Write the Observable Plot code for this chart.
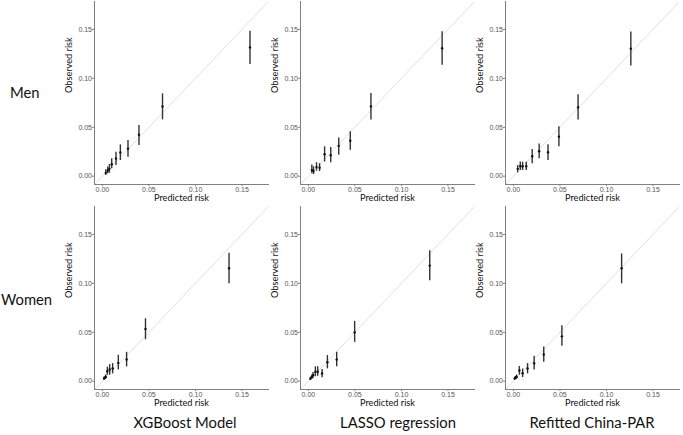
<!DOCTYPE html>
<html><head><meta charset="utf-8">
<script src="https://cdn.jsdelivr.net/npm/d3@7"></script>
<script src="https://cdn.jsdelivr.net/npm/@observablehq/plot@0.6"></script>
<style>
html,body{margin:0;padding:0;background:#fff;}
#wrap{position:relative;width:683px;height:435px;overflow:hidden;}
.panel{position:absolute;}
.lbl{position:absolute;font-family:Lato,sans-serif;font-size:14.8px;color:#111;white-space:nowrap;line-height:1;}
</style></head><body><div id="wrap"></div>
<script>
// ---- data ----
const rowLabels = ["Men", "Women"];
const modelTitles = ["XGBoost Model", "LASSO regression", "Refitted China-PAR"];
const axisTicks = [0, 0.05, 0.10, 0.15];
const axisDomain = [-0.0085, 0.1785];
const refLine = [-0.02, 0.2];

// Men, XGBoost
const menXgbPred = [0.0036, 0.0057, 0.0075, 0.0100, 0.0146, 0.0193, 0.0275, 0.0393, 0.0646, 0.1586];
const menXgbObs  = [0.0034, 0.0058, 0.0075, 0.0123, 0.0180, 0.0242, 0.0280, 0.0423, 0.0712, 0.1316];
const menXgbLo   = [0.0007, 0.0025, 0.0031, 0.0075, 0.0109, 0.0160, 0.0194, 0.0314, 0.0576, 0.1140];
const menXgbHi   = [0.0065, 0.0095, 0.0119, 0.0177, 0.0245, 0.0320, 0.0365, 0.0518, 0.0842, 0.1480];
// Men, LASSO
const menLassoPred = [0.0037, 0.0055, 0.0087, 0.0120, 0.0174, 0.0240, 0.0326, 0.0450, 0.0672, 0.1437];
const menLassoObs  = [0.0062, 0.0052, 0.0093, 0.0086, 0.0224, 0.0214, 0.0310, 0.0362, 0.0713, 0.1307];
const menLassoLo   = [0.0024, 0.0017, 0.0052, 0.0048, 0.0145, 0.0138, 0.0214, 0.0266, 0.0574, 0.1134];
const menLassoHi   = [0.0114, 0.0096, 0.0138, 0.0128, 0.0300, 0.0293, 0.0390, 0.0455, 0.0845, 0.1477];
// Men, Refitted China-PAR
const menParPred = [0.0046, 0.0074, 0.0099, 0.0138, 0.0202, 0.0277, 0.0372, 0.0489, 0.0695, 0.1262];
const menParObs  = [0.0075, 0.0102, 0.0102, 0.0102, 0.0204, 0.0255, 0.0244, 0.0404, 0.0703, 0.1303];
const menParLo   = [0.0034, 0.0058, 0.0058, 0.0058, 0.0126, 0.0177, 0.0160, 0.0302, 0.0574, 0.1127];
const menParHi   = [0.0109, 0.0146, 0.0143, 0.0143, 0.0272, 0.0329, 0.0322, 0.0506, 0.0832, 0.1473];
// Women, XGBoost
const womenXgbPred = [0.0018, 0.0029, 0.0036, 0.0053, 0.0078, 0.0110, 0.0171, 0.0260, 0.0463, 0.1361];
const womenXgbObs  = [0.0027, 0.0034, 0.0044, 0.0102, 0.0119, 0.0129, 0.0187, 0.0221, 0.0533, 0.1154];
const womenXgbLo   = [0.0012, 0.0018, 0.0025, 0.0061, 0.0061, 0.0075, 0.0115, 0.0146, 0.0424, 0.0995];
const womenXgbHi   = [0.0042, 0.0050, 0.0063, 0.0143, 0.0170, 0.0180, 0.0265, 0.0295, 0.0638, 0.1307];
// Women, LASSO
const womenLassoPred = [0.0021, 0.0036, 0.0050, 0.0075, 0.0100, 0.0147, 0.0204, 0.0304, 0.0497, 0.1304];
const womenLassoObs  = [0.0024, 0.0041, 0.0061, 0.0096, 0.0096, 0.0078, 0.0193, 0.0221, 0.0499, 0.1181];
const womenLassoLo   = [0.0008, 0.0018, 0.0030, 0.0045, 0.0051, 0.0035, 0.0126, 0.0147, 0.0397, 0.1025];
const womenLassoHi   = [0.0042, 0.0062, 0.0088, 0.0147, 0.0147, 0.0119, 0.0262, 0.0295, 0.0611, 0.1334];
// Women, Refitted China-PAR
const womenParPred = [0.0014, 0.0025, 0.0035, 0.0064, 0.0099, 0.0152, 0.0223, 0.0326, 0.0521, 0.1163];
const womenParObs  = [0.0027, 0.0034, 0.0044, 0.0109, 0.0081, 0.0129, 0.0183, 0.0272, 0.0458, 0.1154];
const womenParLo   = [0.0012, 0.0018, 0.0025, 0.0061, 0.0037, 0.0075, 0.0115, 0.0193, 0.0356, 0.0995];
const womenParHi   = [0.0042, 0.0050, 0.0063, 0.0150, 0.0125, 0.0180, 0.0255, 0.0350, 0.0567, 0.1300];

const panels = [
  [menXgbPred, menXgbObs, menXgbLo, menXgbHi],
  [menLassoPred, menLassoObs, menLassoLo, menLassoHi],
  [menParPred, menParObs, menParLo, menParHi],
  [womenXgbPred, womenXgbObs, womenXgbLo, womenXgbHi],
  [womenLassoPred, womenLassoObs, womenLassoLo, womenLassoHi],
  [womenParPred, womenParObs, womenParLo, womenParHi]
];

// ---- layout ----
const colLeft = [94, 300, 505];
const rowTop = [1, 206];
const innerW = 174, innerH = 183;
const ML = 40, MR = 4, MT = 4, MB = 26;
const wrap = document.getElementById("wrap");

function makePanel(pred, obs, lo, hi) {
  const data = pred.map((p, i) => ({p, o: obs[i], lo: lo[i], hi: hi[i]}));
  const axisCol = "#808080";
  return Plot.plot({
    width: ML + innerW + MR,
    height: MT + innerH + MB,
    marginLeft: ML, marginRight: MR, marginTop: MT, marginBottom: MB,
    style: {background: "transparent", overflow: "visible", fontFamily: "'Liberation Sans', Arial, sans-serif"},
    x: {domain: axisDomain},
    y: {domain: axisDomain},
    marks: [
      Plot.line(refLine, {x: d => d, y: d => d, stroke: "#e0e0e0", strokeWidth: 1, clip: true}),
      Plot.ruleX(data, {x: "p", y1: "lo", y2: "hi", stroke: "#333", strokeWidth: 1.4}),
      Plot.dot(data, {x: "p", y: "o", r: 1.2, fill: "#111", stroke: null}),
      Plot.frame({anchor: "left", stroke: axisCol}),
      Plot.frame({anchor: "bottom", stroke: axisCol}),
      Plot.axisX({ticks: axisTicks, tickFormat: ".2f", tickSize: 2, tickPadding: 0.5, fontSize: 7, stroke: axisCol, fill: "#555", label: null}),
      Plot.axisY({ticks: axisTicks, tickFormat: ".2f", tickSize: 2, tickPadding: 0.5, fontSize: 7, stroke: axisCol, fill: "#555", label: null}),
      Plot.text(["Observed risk"], {text: d => d, frameAnchor: "left", dx: -25, rotate: -90, fontSize: 9.2, fontFamily: "Lato", fill: "#111"}),
      Plot.text(["Predicted risk"], {text: d => d, frameAnchor: "bottom", dy: 16, fontSize: 9.2, fontFamily: "Lato", fill: "#111"})
    ]
  });
}

panels.forEach((pd, k) => {
  const r = Math.floor(k / 3), c = k % 3;
  const el = makePanel(...pd);
  const div = document.createElement("div");
  div.className = "panel";
  div.style.left = (colLeft[c] - ML) + "px";
  div.style.top = (rowTop[r] - MT) + "px";
  div.appendChild(el);
  wrap.appendChild(div);
});

// row labels
const rowY = [92, 299], rowX = [10, 1];
rowLabels.forEach((t, i) => {
  const d = document.createElement("div");
  d.className = "lbl";
  d.textContent = t;
  d.style.left = rowX[i] + "px";
  d.style.top = rowY[i] + "px";
  d.style.transform = "translateY(-50%)";
  wrap.appendChild(d);
});
// column titles
const colCenter = [185, 398, 592];
modelTitles.forEach((t, i) => {
  const d = document.createElement("div");
  d.className = "lbl";
  d.textContent = t;
  d.style.left = colCenter[i] + "px";
  d.style.top = "422px";
  d.style.transform = "translate(-50%,-50%)";
  wrap.appendChild(d);
});
</script></body></html>
